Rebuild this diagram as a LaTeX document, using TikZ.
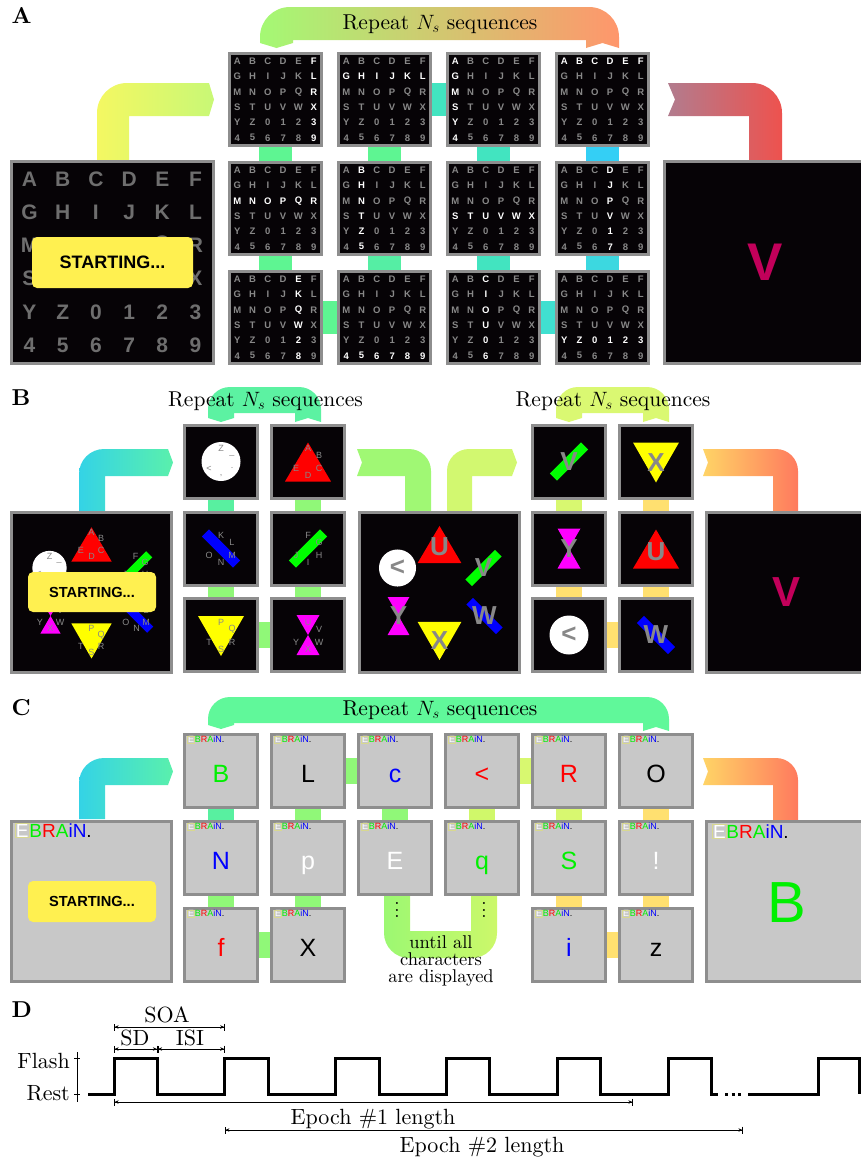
\documentclass[tikz,border=0pt]{standalone}
\usepackage{fontspec}
\setmainfont{lmroman10-regular}[Extension=.otf, BoldFont=lmroman10-bold, ItalicFont=lmroman10-italic, BoldItalicFont=lmroman10-bolditalic]
\newfontfamily\arial{Liberation Sans}
\usetikzlibrary{arrows.meta,calc,positioning}
\pgfdeclarelayer{bands}
\pgfsetlayers{bands,main}

\definecolor{scrblack}{HTML}{060306}
\definecolor{scrframe}{HTML}{8E8E8E}
\definecolor{scrgray}{HTML}{C8C8C8}
\definecolor{biggray}{HTML}{6E6E6E}
\definecolor{chgray}{HTML}{888888}
\definecolor{startyel}{HTML}{FFF050}
\definecolor{target}{HTML}{C2005A}
\definecolor{lime}{HTML}{00F000}
\definecolor{logoframe}{HTML}{D8D890}
\definecolor{shred}{HTML}{FF0000}
\definecolor{shyellow}{HTML}{FFFF00}
\definecolor{shmagenta}{HTML}{FF00FF}
\definecolor{shgreen}{HTML}{00FF00}
\definecolor{shblue}{HTML}{0000FF}
% link colours
\definecolor{lkg}{HTML}{5EF592}
\definecolor{lks}{HTML}{55EEA4}
\definecolor{lkt}{HTML}{42E4C0}
\definecolor{lkq}{HTML}{40E0D0}
\definecolor{lkc}{HTML}{3CD8E0}
\definecolor{lkb}{HTML}{34CFF5}
\definecolor{lkm}{HTML}{58F0A0}
\definecolor{lkl}{HTML}{90F878}
\definecolor{lkd}{HTML}{D0F86A}
\definecolor{lky}{HTML}{D8F870}
\definecolor{lko}{HTML}{FFE070}
% band colours
\definecolor{inA1}{HTML}{F4F862}
\definecolor{inA2}{HTML}{C8F876}
\definecolor{loopA1}{HTML}{A4F974}
\definecolor{loopA2}{HTML}{F6F466}
\definecolor{loopA3}{HTML}{FF966C}
\definecolor{outA1}{HTML}{B27C8E}
\definecolor{outA2}{HTML}{EE524E}
\definecolor{in1}{HTML}{34D3E6}
\definecolor{in2}{HTML}{5AF0AC}
\definecolor{out1}{HTML}{FFD466}
\definecolor{out2}{HTML}{FF7A5E}
\definecolor{loopB1}{HTML}{5CF2A2}
\definecolor{loopB2}{HTML}{DAF872}
\definecolor{loopC}{HTML}{60F89A}
\definecolor{midin}{HTML}{A0F874}
\definecolor{midout}{HTML}{D2F870}
\definecolor{until1}{HTML}{9CF872}
\definecolor{until2}{HTML}{CCF86A}

\tikzset{
  scr/.style={draw=scrframe, line width=3pt, fill=scrblack, inner sep=0pt, minimum size=#1},
  gscr/.style={scr=#1, fill=scrgray},
  bandlink/.style={line width=#1},
  reptext/.style={anchor=base, font=\fontsize{21.5}{25}\selectfont},
  panel/.style={anchor=base west, font=\fontsize{23}{25}\selectfont\bfseries},
  startbox/.style={fill=startyel, rounded corners=5pt, inner sep=0pt, font=\arial\bfseries\fontsize{#1}{#1}\selectfont},
  ringch/.style={text=chgray, font=\arial\fontsize{9}{9}\selectfont, inner sep=0pt},
  onshape/.style={text=chgray, font=\arial\bfseries\fontsize{26}{26}\selectfont, inner sep=0pt},
  scrch/.style={anchor=base, font=\arial\fontsize{25}{25}\selectfont, inner sep=0pt},
  logo/.style={anchor=west, inner sep=0pt, font=\arial\fontsize{#1}{#1}\selectfont},
  timing/.style={font=\fontsize{22}{25}\selectfont, inner sep=0pt},
  dimline/.style={{Bar[width=7pt]Stealth[length=4pt,width=3.5pt]}-{Stealth[length=4pt,width=3.5pt]Bar[width=7pt]}, line width=.6pt},
  wave/.style={line width=3pt},
}

% 6x6 speller matrix, mode 0 = row lit, 1 = column lit, 2 = none
\newcommand\lettergrid[6]{%
  \foreach \ch [count=\n from 0] in {A,B,C,D,E,F,G,H,I,J,K,L,M,N,O,P,Q,R,S,T,U,V,W,X,Y,Z,0,1,2,3,4,5,6,7,8,9} {
    \pgfmathtruncatemacro\chrow{div(\n,6)}
    \pgfmathtruncatemacro\chcolumn{mod(\n,6)}
    \pgfmathtruncatemacro\chlit{((#2==0)&&(\chrow==#3))||((#2==1)&&(\chcolumn==#3))}
    \ifnum\chlit=1 \def\chtint{white}\else\def\chtint{#5}\fi
    \node[text=\chtint, font=\arial\bfseries\fontsize{#4}{#4}\selectfont, inner sep=0pt]
      (#1-\n) at ($(#1)+({(\chcolumn-2.5)*#6},{(\chrow-2.5)*#6})$) {\ch};
  }}
% five small letters round a shape
\newcommand\ringletters[7]{%
  \foreach \dx/\dy [count=\k] in {0/-13,11/-6,11/7,0/14,-12/7}
    \node[ringch] (#1-r\k) at ($(#1)+#2*(\dx,\dy)$) {\ifcase\k\or#3\or#4\or#5\or#6\or#7\fi};}
\newcommand\shapetri[2]{\fill[shred, shift={(#1)}, scale=#2] (0,-19) -- (23,20) -- (-23,20) -- cycle;}
\newcommand\shapedowntri[2]{\fill[shyellow, shift={(#1)}, scale=#2] (-23,-19) -- (23,-19) -- (0,21) -- cycle;}
\newcommand\shapedisc[2]{\fill[white, shift={(#1)}, scale=#2] (0,0) circle (19.5);}
\newcommand\shapeglass[2]{\fill[shmagenta, shift={(#1)}, scale=#2] (-11.5,-20) -- (11.5,-20) -- (-11.5,20) -- (11.5,20) -- cycle;}
\newcommand\shapeslab[4]{\fill[#4, shift={(#1)}, rotate=#3, scale=#2] (-22,-5) rectangle (22,5);}
\newcommand\ebrain{{\setlength\fboxsep{.4pt}\setlength\fboxrule{.4pt}\fcolorbox{logoframe}{scrgray}{\textcolor{white}{E}}}\textcolor{lime}{B}\textcolor{red}{R}\textcolor{lime}{A}\textcolor{blue}{i}\textcolor{blue}{N}.}
\newcommand\bigvdots{\vbox{\baselineskip=6.5pt\lineskiplimit=0pt\hbox{.}\hbox{.}\hbox{.}}}

\begin{document}
\begin{tikzpicture}[x=1pt,y=-1pt]
\useasboundingbox (0,0) rectangle (861,1157);

% ---------------- A
\node[panel] (lA) at (8,23) {A};
\node[scr=202] (a0) at (112.5,262) {};
\lettergrid{a0}{2}{0}{21}{biggray}{33.2}
\node[startbox=18, minimum width=161, minimum height=51] (startA) at (112.5,262.5) {STARTING...};
\foreach \i/\j/\m/\k in {1/1/1/5, 2/1/0/1, 3/1/1/0, 4/1/0/0, 1/2/0/2, 2/2/1/1,
                         3/2/0/3, 4/2/1/3, 1/3/1/4, 2/3/0/5, 3/3/1/2, 4/3/0/4} {
  \node[scr=92] (a\i\j) at ({275.5+(\i-1)*109},{99.5+(\j-1)*109}) {};
  \lettergrid{a\i\j}{\m}{\k}{9.5}{chgray}{15.3}
}
\node[scr=202] (a5) at (765.5,262) {};
\node[text=target, font=\arial\bfseries\fontsize{53}{53}\selectfont, inner sep=0pt] (vA) at (a5) {V};
\node[reptext] (repA) at (440,29) {Repeat $N_s$ sequences};

% ---------------- B
\node[panel] (lB) at (8,405) {B};
\node[scr=160] (b0) at (91.5,592) {};
\node[scr=160] (bm) at (439.5,592) {};
\node[scr=160] (b5) at (786.5,592) {};
\foreach \i/\x in {1/221,2/308,3/569,4/656}
  \foreach \j/\y in {1/461.5,2/548.5,3/635}
    \node[scr=73] (b\i\j) at (\x,\y) {};
\foreach \b in {b0,bm} {
  \coordinate (\b-n) at ($(\b)+(0,-48)$);
  \coordinate (\b-nw) at ($(\b)+(-42,-24)$);
  \coordinate (\b-ne) at ($(\b)+(44,-24)$);
  \coordinate (\b-sw) at ($(\b)+(-41,24)$);
  \coordinate (\b-s) at ($(\b)+(0,48)$);
  \coordinate (\b-se) at ($(\b)+(45,24)$);
}
% start screen
\shapetri{b0-n}{.88}\ringletters{b0-n}{.88}{A}{B}{C}{D}{E}
\shapedisc{b0-nw}{.88}\ringletters{b0-nw}{.88}{Z}{\_}{.}{,}{<}
\shapeslab{b0-ne}{.88}{45}{shgreen}\ringletters{b0-ne}{.88}{F}{G}{H}{I}{J}
\shapeglass{b0-sw}{.88}\ringletters{b0-sw}{.88}{U}{V}{W}{X}{Y}
\shapedowntri{b0-s}{.88}\ringletters{b0-s}{.88}{P}{Q}{R}{S}{T}
\shapeslab{b0-se}{.88}{-45}{shblue}\ringletters{b0-se}{.88}{K}{L}{M}{N}{O}
\node[startbox=14.6, minimum width=128, minimum height=40] (startB) at (92,592) {STARTING...};
% first level
\shapedisc{b11}{1}\ringletters{b11}{1}{Z}{\_}{.}{,}{<}
\shapetri{b21}{1}\ringletters{b21}{1}{A}{B}{C}{D}{E}
\shapeslab{b12}{1}{-45}{shblue}\ringletters{b12}{1}{K}{L}{M}{N}{O}
\shapeslab{b22}{1}{45}{shgreen}\ringletters{b22}{1}{F}{G}{H}{I}{J}
\shapedowntri{b13}{1}\ringletters{b13}{1}{P}{Q}{R}{S}{T}
\shapeglass{b23}{1}\ringletters{b23}{1}{U}{V}{W}{X}{Y}
% chosen group
\shapetri{bm-n}{.95}\node[onshape] (bm-u) at ($(bm-n)+(0,3)$) {U};
\shapedisc{bm-nw}{.95}\node[onshape] (bm-lt) at (bm-nw) {<};
\shapeslab{bm-ne}{.95}{45}{shgreen}\node[onshape] (bm-v) at (bm-ne) {V};
\shapeglass{bm-sw}{.95}\node[onshape] (bm-y) at (bm-sw) {Y};
\shapedowntri{bm-s}{.95}\node[onshape] (bm-x) at ($(bm-s)+(0,1)$) {X};
\shapeslab{bm-se}{.95}{-45}{shblue}\node[onshape] (bm-w) at (bm-se) {W};
% second level
\shapeslab{b31}{1}{45}{shgreen}\node[onshape] (b31-v) at (b31) {V};
\shapedowntri{b41}{1}\node[onshape] (b41-x) at ($(b41)+(0,1)$) {X};
\shapeglass{b32}{1}\node[onshape] (b32-y) at (b32) {Y};
\shapetri{b42}{1}\node[onshape] (b42-u) at ($(b42)+(0,3)$) {U};
\shapedisc{b33}{1}\node[onshape] (b33-lt) at (b33) {<};
\shapeslab{b43}{1}{-45}{shblue}\node[onshape] (b43-w) at (b43) {W};
\node[text=target, font=\arial\bfseries\fontsize{42}{42}\selectfont, inner sep=0pt] (vB) at (b5) {V};
\node[reptext] (repB1) at (265.5,406) {Repeat $N_s$ sequences};
\node[reptext] (repB2) at (613,406) {Repeat $N_s$ sequences};

% ---------------- C
\node[panel] (lC) at (8,715) {C};
\node[gscr=160] (c0) at (91.5,901) {};
\node[logo=19] (c0-logo) at ($(c0.north west)+(5,11)$) {\ebrain};
\node[startbox=14.6, minimum width=128, minimum height=41] (startC) at (92,901.5) {STARTING...};
\foreach \i/\j/\ch/\tint in {1/1/B/lime, 2/1/L/black, 3/1/c/blue, 4/1/</red, 5/1/R/red, 6/1/O/black,
                             1/2/N/blue, 2/2/p/white, 3/2/E/white, 4/2/q/lime, 5/2/S/lime, 6/2/!/white,
                             1/3/f/red, 2/3/X/black, 5/3/i/blue, 6/3/z/black} {
  \node[gscr=73] (c\i\j) at ({221+(\i-1)*87},{771+(\j-1)*87}) {};
  \node[logo=9] (c\i\j-logo) at ($(c\i\j.north west)+(4,6.5)$) {\ebrain};
  \node[scrch, text=\tint] (c\i\j-ch) at ($(c\i\j)+(0,11)$) {\ch};
}
\node[gscr=160] (c7) at (786.5,901) {};
\node[logo=19] (c7-logo) at ($(c7.north west)+(7,12)$) {\ebrain};
\node[text=lime, font=\arial\fontsize{58}{58}\selectfont, inner sep=0pt] (bC) at ($(c7)+(0,1.5)$) {B};
\node[reptext] (repC) at (440,715) {Repeat $N_s$ sequences};
\node[font=\fontsize{19}{19}\selectfont, inner sep=0pt] (dotsL) at (397,910) {\bigvdots};
\node[font=\fontsize{19}{19}\selectfont, inner sep=0pt] (dotsR) at (484,910) {\bigvdots};
\node[align=center, font=\fontsize{18.5}{17}\selectfont, inner sep=0pt] (until) at (441,961) {until all\\characters\\are displayed};

% ---------------- D
\node[panel] (lD) at (8,1017) {D};
\node[timing, anchor=east] (flash) at (70,1061) {Flash};
\node[timing, anchor=east] (rest) at (70,1093) {Rest};
\draw[line width=.6pt] (77,1052) -- (77,1102) (74,1058) -- (80,1058) (74,1094) -- (80,1094);
\draw[wave] (88,1094) foreach \x in {114,224.8,335.6,446.4,557.2,668}
  { -- (\x,1094) -- (\x,1058) -- ({\x+43.5},1058) -- ({\x+43.5},1094) } -- (718,1094);
\draw[wave, dash pattern=on 3pt off 3.5pt] (725,1094) -- (743,1094);
\draw[wave] (748,1094) -- (818,1094) -- (818,1058) -- (859,1058) -- (859,1094);
\coordinate (soa-a) at (114,1027);
\coordinate (soa-b) at (224.8,1027);
\coordinate (sd-a) at (114,1049);
\coordinate (sd-b) at (157.5,1049);
\coordinate (isi-b) at (224.8,1049);
\coordinate (ep1-a) at (114,1102);
\coordinate (ep1-b) at (633,1102);
\coordinate (ep2-a) at (224.8,1130);
\coordinate (ep2-b) at (743,1130);
\draw[dimline] (soa-a) -- (soa-b);
\draw[dimline] (sd-a) -- (sd-b);
\draw[dimline] (sd-b) -- (isi-b);
\draw[dimline] (ep1-a) -- (ep1-b);
\draw[dimline] (ep2-a) -- (ep2-b);
\node[timing, anchor=base] (soa) at (167,1022) {SOA};
\node[timing, anchor=base] (sd) at (135,1045) {SD};
\node[timing, anchor=base] (isi) at (190,1045) {ISI};
\node[timing, anchor=base] (ep1) at (373,1124) {Epoch \#1 length};
\node[timing, anchor=base] (ep2) at (482,1152) {Epoch \#2 length};

% ---------------- bands
\begin{pgfonlayer}{bands}
% A
\shade[left color=inA1, right color=inA2]
  (97,160) -- (97,113) .. controls (97,96.4) and (110.4,83) .. (127,83) -- (209,83)
  -- (214,99.5) -- (209,116) -- (129,116) -- (129,160) -- cycle;
\shade[left color=loopA1, middle color=loopA2, right color=loopA3]
  (260,43) -- (260,37) .. controls (260,20.4) and (273.4,7) .. (290,7) -- (589,7)
  .. controls (605.6,7) and (619,20.4) .. (619,37) -- (619,48) -- (602.5,43) -- (586,48)
  -- (586,40) -- (293,40) -- (293,43) -- (276.5,48) -- cycle;
\shade[left color=outA1, right color=outA2]
  (668,83) -- (752,83) .. controls (768.6,83) and (782,96.4) .. (782,113) -- (782,160)
  -- (749,160) -- (749,116) -- (668,116) -- (675,99.5) -- cycle;
\foreach \p/\q/\tint in {a11/a12/lkg, a12/a13/lkg, a13/a23/lkg, a23/a22/lks, a22/a21/lkg, a21/a31/lkt,
                         a31/a32/lkt, a32/a33/lkt, a33/a43/lkq, a43/a42/lkc, a42/a41/lkb}
  \draw[bandlink=33, draw=\tint] (\p) -- (\q);
% B
\shade[left color=in1, right color=in2]
  (79,511) -- (79,474) .. controls (79,460.2) and (90.2,449) .. (104,449) -- (168,449)
  -- (173,462.5) -- (168,476) -- (105,476) -- (105,511) -- cycle;
\fill[loopB1]
  (208,418) -- (208,409) .. controls (208,396.8) and (217.8,387) .. (230,387) -- (299,387)
  .. controls (311.2,387) and (321,396.8) .. (321,409) -- (321,422) -- (308,418) -- (295,422)
  -- (295,413) -- (234,413) -- (234,418) -- (221,422) -- cycle;
\fill[midin]
  (357,449) -- (409,449) .. controls (421.2,449) and (431,458.8) .. (431,471) -- (431,511)
  -- (405,511) -- (405,476) -- (357,476) -- (362,462.5) -- cycle;
\fill[midout]
  (447,511) -- (447,471) .. controls (447,458.8) and (456.8,449) .. (469,449) -- (512,449)
  -- (517,462.5) -- (512,476) -- (472,476) -- (472,511) -- cycle;
\fill[loopB2]
  (556,418) -- (556,409) .. controls (556,396.8) and (565.8,387) .. (578,387) -- (647,387)
  .. controls (659.2,387) and (669,396.8) .. (669,409) -- (669,422) -- (656,418) -- (643,422)
  -- (643,413) -- (582,413) -- (582,418) -- (569,422) -- cycle;
\shade[left color=out1, right color=out2]
  (703,449) -- (776,449) .. controls (788.2,449) and (798,458.8) .. (798,471) -- (798,511)
  -- (773,511) -- (773,476) -- (703,476) -- (708,462.5) -- cycle;
\foreach \p/\q/\tint in {b11/b12/lkm, b12/b13/lkl, b13/b23/lkl, b23/b22/lkl, b22/b21/lkl,
                         b31/b32/lky, b32/b33/lko, b33/b43/lko, b43/b42/lko, b42/b41/lko}
  \draw[bandlink=26, draw=\tint] (\p) -- (\q);
% C
\shade[left color=in1, right color=in2]
  (79,819) -- (79,783) .. controls (79,769.2) and (90.2,758) .. (104,758) -- (168,758)
  -- (173,771.5) -- (168,785) -- (105,785) -- (105,819) -- cycle;
\fill[loopC]
  (208,725) -- (208,719) .. controls (208,706.8) and (217.8,697) .. (230,697) -- (647,697)
  .. controls (659.2,697) and (669,706.8) .. (669,719) -- (669,731) -- (656,727) -- (643,731)
  -- (643,723) -- (234,723) -- (234,725) -- (221,729) -- cycle;
\shade[left color=until1, right color=until2]
  (384,896) -- (384,933) .. controls (384,946.8) and (395.2,958) .. (409,958) -- (472,958)
  .. controls (485.8,958) and (497,946.8) .. (497,933) -- (497,896) -- (471,896)
  -- (471,931) -- (410,931) -- (410,896) -- cycle;
\shade[left color=out1, right color=out2]
  (703,758) -- (776,758) .. controls (788.2,758) and (798,767.8) .. (798,780) -- (798,820)
  -- (773,820) -- (773,785) -- (703,785) -- (708,771.5) -- cycle;
\foreach \p/\q/\tint in {c11/c12/lkm, c12/c13/lkl, c13/c23/lkl, c23/c22/lkl, c22/c21/lkl, c21/c31/lkl,
                         c31/c32/lkl, c42/c41/lkd, c41/c51/lky, c51/c52/lky, c52/c53/lko,
                         c53/c63/lko, c63/c62/lko, c62/c61/lko}
  \draw[bandlink=26, draw=\tint] (\p) -- (\q);
\end{pgfonlayer}
\end{tikzpicture}
\end{document}
